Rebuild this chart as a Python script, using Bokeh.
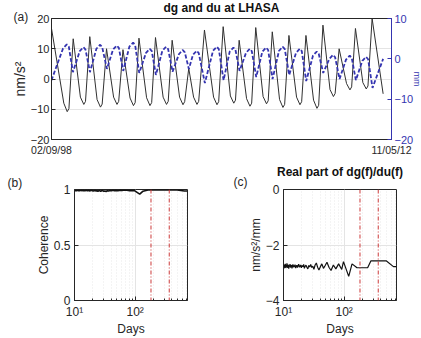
import numpy as np
from bokeh.plotting import figure
from bokeh.models import Range1d, LinearAxis, FixedTicker, Span, Title
from bokeh.layouts import column, row
from bokeh.embed import file_html
from bokeh.resources import INLINE

FONT = "Liberation Sans"
INK = "#262626"
DG_COLOR = "#303030"
DU_COLOR = "#3434b0"
GRID = "#e4e4e4"
MARK = "#cc3a3a"

# ---------------- (a) dg and du time series, x in days since 02/09/98 ----------------
date_ticks = [0, 4999]
date_labels = ["02/09/98", "11/05/12"]

dg_peak_day = [0, 319, 563, 809, 1051, 1286, 1529, 1774, 2018, 2249,
               2524, 2759, 3003, 3246, 3491, 3741, 3991, 4229, 4469, 4714]
dg_peak = [16.7, 13.3, 14.0, 10.0, 9.7, 13.5, 13.7, 12.8, 3.5, 16.2,
           17.3, 12.8, 17.0, 15.6, 14.4, 14.4, 17.8, 10.0, 16.7, 20.0]
dg_knee_day = [181, 425, 670, 913, 1155, 1398, 1641, 1883, 2089, 2383,
               2630, 2868, 3111, 3353, 3603, 3853, 4095, 4338, 4578]
dg_knee = [-8.0, -6.0, -6.8, -6.0, -6.3, -6.2, -6.0, -6.0, -6.0, -6.0,
           -5.6, -6.5, -5.8, -6.8, -6.0, -7.0, -3.5, -1.5, -1.2]
dg_trough_day = [231, 475, 720, 963, 1205, 1448, 1691, 1933, 2139, 2433,
                 2680, 2918, 3161, 3403, 3653, 3903, 4145, 4388, 4628, 4876]
dg_trough = [-10.8, -8.4, -9.3, -8.4, -8.8, -8.8, -8.4, -8.5, -8.4, -8.5,
             -8.0, -9.0, -8.2, -9.4, -8.5, -9.7, -5.8, -3.6, -3.3, -4.9]
dg_rise_day = [256, 500, 745, 988, 1230, 1473, 1716, 1958, 2164, 2458,
               2705, 2943, 3186, 3428, 3678, 3928, 4170, 4413, 4653]
dg_rise = [-9.8, -7.4, -8.3, -7.4, -7.8, -7.8, -7.4, -7.5, -7.4, -7.5,
           -7.0, -8.0, -7.2, -8.4, -7.5, -8.7, -4.8, -2.6, -2.3]

du_low_day = [0, 315, 565, 815, 1055, 1290, 1535, 1780, 2020, 2255,
              2530, 2765, 3010, 3250, 3495, 3745, 3995, 4235, 4475, 4720]
du_low = [-5.3, -3.3, -3.3, -2.5, -3.0, -3.5, -4.0, -3.2, -2.5, -6.0,
          -5.3, -3.0, -4.5, -5.0, -4.0, -5.5, -3.5, -5.0, -5.3, -7.2]
du_pre_day = [170, 415, 660, 905, 1145, 1390, 1630, 1875, 2080, 2375,
              2620, 2860, 3100, 3345, 3595, 3845, 4085, 4330, 4570]
du_pre = [2.6, 1.9, 2.5, 2.3, 3.0, 1.5, 2.0, 1.2, 1.0, 2.0,
          1.8, 1.5, 1.8, 2.0, 1.5, 0.8, 0.0, -0.2, -0.5]
du_high_day = [225, 470, 715, 960, 1200, 1445, 1685, 1930, 2135, 2430,
               2675, 2915, 3155, 3400, 3650, 3900, 4140, 4385, 4625, 4876]
du_high = [3.6, 2.9, 3.5, 3.3, 4.0, 2.5, 3.0, 2.2, 2.0, 3.0,
           2.8, 2.5, 2.8, 3.0, 2.5, 1.8, 1.0, 0.8, 0.5, 0.0]
du_post_day = [255, 500, 745, 990, 1230, 1475, 1715, 1960, 2165, 2460,
               2705, 2945, 3185, 3430, 3680, 3930, 4170, 4415, 4655]
du_post = [3.0, 2.3, 2.9, 2.7, 3.4, 1.9, 2.4, 1.6, 1.4, 2.4,
           2.2, 1.9, 2.2, 2.4, 1.9, 1.2, 0.4, 0.2, -0.1]

# ---------------- (b), (c) spectral ratio versus period (days) ----------------
period = [10.0, 10.1, 10.3, 10.4, 10.6, 10.7, 10.9, 11.1, 11.2, 11.4,
          11.6, 11.8, 12.0, 12.2, 12.4, 12.6, 12.8, 13.0, 13.3, 13.5,
          13.8, 14.0, 14.3, 14.6, 14.9, 15.2, 15.5, 15.9, 16.2, 16.6,
          17.0, 17.4, 17.8, 18.3, 18.7, 19.2, 19.7, 20.3, 20.9, 21.5,
          22.1, 22.8, 23.5, 24.3, 25.2, 26.1, 27.0, 28.1, 29.2, 30.4,
          31.7, 33.2, 34.8, 36.5, 38.4, 40.6, 42.9, 45.6, 48.7, 52.1,
          56.2, 60.8, 66.4, 73.0, 81.1, 91.3,
          97.5, 119.0, 135.0, 163.0, 244.0, 277.0, 493.0, 650.0, 730.0]

coherence = [0.992, 0.986, 0.994, 0.988, 0.991, 0.985, 0.993, 0.989, 0.995, 0.987,
             0.990, 0.994, 0.986, 0.992, 0.989, 0.995, 0.988, 0.991, 0.993, 0.987,
             0.994, 0.990, 0.988, 0.992, 0.986, 0.991, 0.994, 0.989, 0.992, 0.988,
             0.993, 0.990, 0.987, 0.992, 0.989, 0.994, 0.990, 0.985, 0.991, 0.988,
             0.992, 0.986, 0.990, 0.984, 0.989, 0.991, 0.983, 0.988, 0.990, 0.984,
             0.987, 0.982, 0.989, 0.986, 0.991, 0.988, 0.993, 0.990, 0.992, 0.989,
             0.994, 0.992, 0.995, 0.993, 0.990, 0.991,
             0.990, 0.958, 0.985, 0.996, 0.997, 0.997, 0.996, 0.987, 0.987]

real_ratio = [-2.78, -2.70, -2.84, -2.72, -2.80, -2.68, -2.83, -2.74, -2.79, -2.66,
              -2.82, -2.76, -2.71, -2.85, -2.73, -2.78, -2.69, -2.81, -2.75, -2.72,
              -2.84, -2.77, -2.70, -2.80, -2.74, -2.79, -2.71, -2.83, -2.76, -2.73,
              -2.81, -2.75, -2.69, -2.80, -2.77, -2.72, -2.82, -2.74, -2.78, -2.70,
              -2.84, -2.76, -2.73, -2.80, -2.86, -2.74, -2.79, -2.70, -2.81, -2.76,
              -2.88, -2.72, -2.65, -2.80, -2.90, -2.78, -2.68, -2.84, -2.74, -2.62,
              -2.80, -2.92, -2.72, -2.86, -2.68, -2.88,
              -2.60, -3.13, -2.68, -2.82, -2.82, -2.57, -2.57, -2.78, -2.78]

# semi-annual and annual periods
marker_periods = [182.6, 365.25]

log_ticks = [10, 100]
log_minor = [20, 30, 40, 50, 60, 70, 80, 90, 200, 300, 400, 500, 600, 700]
log_labels = {10: "10\u00b9", 100: "10\u00b2"}


def style(p, tick_size="11px"):
    p.background_fill_color = "white"
    p.border_fill_color = "white"
    p.outline_line_color = INK
    p.outline_line_width = 1
    for ax in p.axis:
        ax.axis_line_color = INK
        ax.major_tick_line_color = INK
        ax.minor_tick_line_color = INK
        ax.major_tick_in = 4
        ax.major_tick_out = 0
        ax.minor_tick_in = 2
        ax.minor_tick_out = 0
        ax.major_label_text_font = FONT
        ax.major_label_text_font_size = tick_size
        ax.major_label_text_color = INK
        ax.major_label_standoff = 4
        ax.axis_label_text_font = FONT
        ax.axis_label_text_font_style = "normal"
        ax.axis_label_text_font_size = "12px"
        ax.axis_label_text_color = INK
        ax.axis_label_standoff = 0


def bold_title(p, standoff):
    p.title.align = "center"
    p.title.text_font = FONT
    p.title.text_font_size = "12px"
    p.title.text_font_style = "bold"
    p.title.text_color = "#111111"
    p.title.standoff = standoff


def tag(p, text, offset, standoff):
    # panel letter in the strip above the frame, shifted left past the frame edge
    p.add_layout(Title(text=text, align="left", offset=offset, standoff=standoff,
                       text_font=FONT, text_font_size="12px", text_font_style="normal",
                       text_color=INK), "above")


def merge(*pairs):
    xs = np.concatenate([np.asarray(d, float) for d, _ in pairs])
    ys = np.concatenate([np.asarray(v, float) for _, v in pairs])
    order = np.argsort(xs, kind="stable")
    return xs[order], ys[order]


# ---------------- panel (a) ----------------
pa = figure(width=421, height=160, x_range=Range1d(0, 4999), y_range=Range1d(-20, 20),
            output_backend="svg", toolbar_location=None,
            min_border_left=51, min_border_right=30, min_border_top=18, min_border_bottom=21,
            title="dg and du at LHASA")
pa.extra_y_ranges = {"du": Range1d(-20, 10)}

dg_x, dg_y = merge((dg_peak_day, dg_peak), (dg_knee_day, dg_knee),
                   (dg_trough_day, dg_trough), (dg_rise_day, dg_rise))
du_x, du_y = merge((du_low_day, du_low), (du_pre_day, du_pre),
                   (du_high_day, du_high), (du_post_day, du_post))

pa.line(dg_x, dg_y, line_color=DG_COLOR, line_width=1)
pa.line(du_x, du_y, y_range_name="du", line_color=DU_COLOR, line_width=1.8, line_dash="4 2")

right = LinearAxis(y_range_name="du", ticker=FixedTicker(ticks=[-20, -10, 0, 10]))
pa.add_layout(right, "right")
style(pa)
pa.yaxis[0].ticker = FixedTicker(ticks=[-20, -10, 0, 10, 20])
pa.yaxis[0].axis_label = "nm/s\u00b2"
pa.yaxis[0].axis_label_text_font_size = "14px"
pa.yaxis[0].major_label_standoff = 2
pa.xaxis.ticker = FixedTicker(ticks=date_ticks)
pa.xaxis.major_label_overrides = dict(zip(date_ticks, date_labels))
pa.xaxis.major_tick_in = 0
pa.xaxis.major_label_text_font_size = "10.5px"
for attr in ("axis_line_color", "major_tick_line_color", "major_label_text_color"):
    setattr(right, attr, DU_COLOR)
right.major_label_standoff = 3
pa.add_layout(Title(text="mm", align="center", standoff=-9, text_font=FONT,
                    text_font_size="9px", text_font_style="normal",
                    text_color=DU_COLOR), "right")
pa.xgrid.grid_line_color = None
pa.ygrid.grid_line_color = GRID
bold_title(pa, -3)
tag(pa, "(a)", -38, -11)


# ---------------- panels (b) and (c) ----------------
def log_panel(width, left, right_b, y0, y1, title=None):
    p = figure(width=width, height=178, x_axis_type="log",
               x_range=Range1d(10, 730.5), y_range=Range1d(y0, y1),
               output_backend="svg", toolbar_location=None,
               min_border_left=left, min_border_right=right_b,
               min_border_top=29, min_border_bottom=36, title=title)
    for m in marker_periods:
        p.add_layout(Span(location=m, dimension="height", line_color=MARK,
                          line_width=1, line_dash="4 2 1 2"))
    style(p)
    p.xaxis.ticker = FixedTicker(ticks=log_ticks, minor_ticks=log_minor)
    p.xaxis.major_label_overrides = log_labels
    p.xaxis.major_label_text_font_size = "12px"
    p.xaxis.axis_label = "Days"
    p.yaxis.major_label_text_font_size = "12px"
    p.xgrid.grid_line_color = GRID
    p.xgrid.minor_grid_line_color = "#e9e9e9"
    p.xgrid.minor_grid_line_dash = "1 2"
    p.ygrid.grid_line_color = GRID
    return p


pb = log_panel(210, 74, 23, 0, 1)
pb.line(period, coherence, line_color="#111111", line_width=1.6)
pb.yaxis.ticker = FixedTicker(ticks=[0, 0.5, 1])
pb.yaxis.major_label_overrides = {0: "0", 0.5: "0.5", 1: "1"}
pb.yaxis.axis_label = "Coherence"
tag(pb, "(b)", -67, 0)

pc = log_panel(211, 73, 25, -4, 0, title="Real part of dg(f)/du(f)")
pc.line(period, real_ratio, line_color="#111111", line_width=1.2)
pc.yaxis.ticker = FixedTicker(ticks=[-4, -2, 0])
pc.yaxis.axis_label = "nm/s\u00b2/mm"
bold_title(pc, -15)
tag(pc, "(c)", -50, 2)

layout = column(pa, row(pb, pc))
open("out.html", "w").write(file_html(layout, INLINE))
